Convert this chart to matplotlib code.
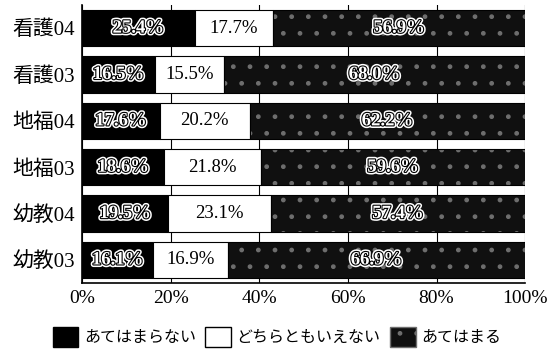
import numpy as np
import matplotlib
matplotlib.use('Agg')
import matplotlib.pyplot as plt
import matplotlib.patheffects as pe
from matplotlib.patches import Patch

plt.rcParams['font.family'] = ['Liberation Serif', 'Noto Sans CJK JP']
plt.rcParams['hatch.linewidth'] = 1.0

groups = ['看護04', '看護03', '地福04', '地福03', '幼教04', '幼教03']
not_apply = [25.4, 16.5, 17.6, 18.6, 19.5, 16.1]
neither = [17.7, 15.5, 20.2, 21.8, 23.1, 16.9]
apply_ = [56.9, 68.0, 62.2, 59.6, 57.4, 66.9]
series_names = ['あてはまらない', 'どちらともいえない', 'あてはまる']
xticks = [0, 20, 40, 60, 80, 100]

DARK = '#101010'
SPECK = '#6e6e6e'

fig = plt.figure(figsize=(5.54, 3.53), dpi=100)
ax = fig.add_axes([0.148, 0.198, 0.800, 0.788])

y = np.arange(len(groups))
h = 0.78
left2 = np.array(not_apply)
left3 = left2 + np.array(neither)

ax.barh(y, not_apply, height=h, color='black', edgecolor='black', lw=0.8, zorder=2)
ax.barh(y, neither, left=left2, height=h, color='white', edgecolor='black', lw=0.8, zorder=2)
# dark speckled segment: hatch first, then a black outline on top
ax.barh(y, apply_, left=left3, height=h, color=DARK, edgecolor=SPECK,
        hatch='.', lw=0, zorder=2)
ax.barh(y, apply_, left=left3, height=h, fill=False, edgecolor='black', lw=0.8, zorder=3)

outline = [pe.Stroke(linewidth=3.8, foreground='white'),
           pe.Stroke(linewidth=1.6, foreground='black'),
           pe.Normal()]
for i in range(len(groups)):
    ax.text(not_apply[i] / 2, y[i], f'{not_apply[i]:.1f}%', ha='center', va='center',
            fontsize=13.5, fontweight='bold', color='white', path_effects=outline, zorder=4)
    ax.text(left2[i] + neither[i] / 2, y[i], f'{neither[i]:.1f}%', ha='center', va='center',
            fontsize=13.5, color='black', zorder=4)
    ax.text(left3[i] + apply_[i] / 2, y[i], f'{apply_[i]:.1f}%', ha='center', va='center',
            fontsize=13.5, fontweight='bold', color='white', path_effects=outline, zorder=4)

ax.set_xlim(0, 100)
ax.set_ylim(len(groups) - 0.5, -0.5)
ax.set_xticks(xticks)
ax.set_xticklabels([f'{t}%' for t in xticks], fontsize=14)
ax.set_yticks(y)
ax.set_yticklabels(groups, fontsize=15)
ax.tick_params(axis='y', length=0, pad=5)
ax.tick_params(axis='x', length=0, pad=5)
ax.xaxis.grid(True, color='black', lw=0.8, zorder=0)
ax.set_axisbelow(True)
for s in ['top', 'right']:
    ax.spines[s].set_visible(False)
ax.spines['left'].set_linewidth(1.2)
ax.spines['bottom'].set_linewidth(1.2)

handles = [Patch(facecolor='black', edgecolor='black'),
           Patch(facecolor='white', edgecolor='black'),
           Patch(facecolor=DARK, edgecolor=SPECK, hatch='.')]
fig.legend(handles, series_names, loc='center', bbox_to_anchor=(0.50, 0.045), ncol=3,
           frameon=False, fontsize=11.5, handlelength=1.6, handleheight=1.6,
           handletextpad=0.35, columnspacing=0.6, borderpad=0.1)

fig.savefig('out.png', dpi=100)
